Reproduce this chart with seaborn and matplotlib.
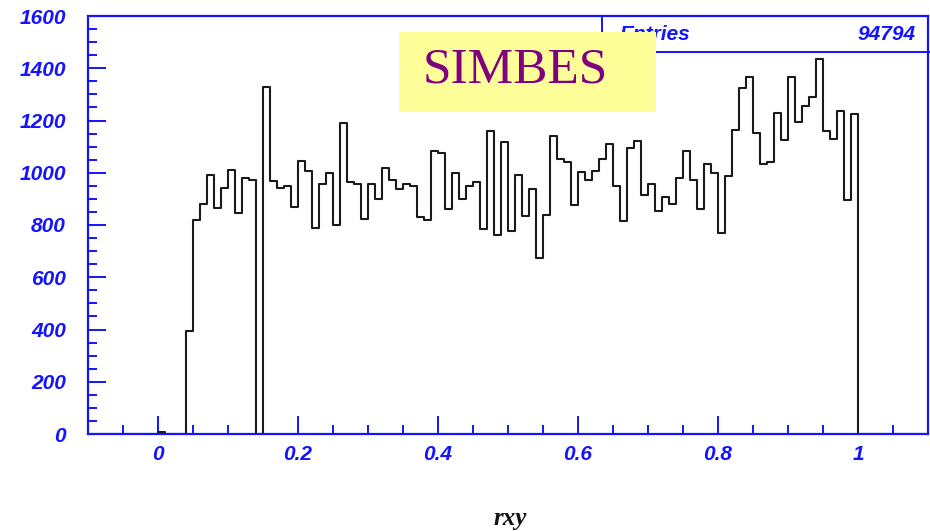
import numpy as np
import pandas as pd
import matplotlib
matplotlib.use("Agg")
import matplotlib.pyplot as plt
from matplotlib.lines import Line2D
from matplotlib.patches import Rectangle
from matplotlib.font_manager import FontProperties
from matplotlib.ticker import MultipleLocator, FixedLocator, FixedFormatter
import seaborn as sns

# Bin contents of rxy for bins of width 0.01 from 0.00 to 1.00
counts = [
    8, 0, 0, 0, 394, 818, 880, 992, 865, 943,
    1011, 846, 978, 971, 0, 1330, 969, 943, 950, 870,
    1046, 1005, 789, 957, 999, 801, 1190, 963, 957, 824,
    957, 901, 1020, 971, 937, 956, 950, 832, 819, 1082,
    1076, 860, 999, 901, 950, 965, 784, 1159, 761, 1117,
    776, 992, 834, 936, 672, 840, 1140, 1054, 1040, 878,
    1004, 971, 1006, 1054, 1110, 950, 817, 1096, 1123, 914,
    956, 853, 907, 881, 978, 1082, 971, 860, 1034, 1000,
    770, 986, 1165, 1326, 1366, 1151, 1033, 1040, 1229, 1124,
    1366, 1194, 1254, 1290, 1435, 1160, 1131, 1235, 894, 1226,
]
hist_low, hist_high, n_bins = -0.1, 1.1, 120
data_low = 0.0

x_ticks = [0.0, 0.2, 0.4, 0.6, 0.8, 1.0]
x_tick_labels = ["0", "0.2", "0.4", "0.6", "0.8", "1"]
y_ticks = [0, 200, 400, 600, 800, 1000, 1200, 1400, 1600]
entries_label = "Entries"
entries_value = "94794"
title_text = "SIMBES"
x_label = "rxy"

# Full histogram range, empty outside [0, 1]
width = (hist_high - hist_low) / n_bins
first = int(round((data_low - hist_low) / width))
weights = np.zeros(n_bins)
weights[first:first + len(counts)] = counts
centers = hist_low + width * (np.arange(n_bins) + 0.5)
df = pd.DataFrame({"rxy": centers, "n": weights})

sns.set_style("white")
plt.rcParams["font.family"] = ["Liberation Sans", "DejaVu Sans"]

W, H = 930, 531
fig = plt.figure(figsize=(W / 100, H / 100), dpi=100)
fig.patch.set_facecolor("white")

left, right, top, bottom = 88, 928, 16, 434
ax = fig.add_axes([left / W, 1 - bottom / H, (right - left) / W, (bottom - top) / H])
ax.set_facecolor("white")

sns.histplot(data=df, x="rxy", weights="n", binwidth=width,
             binrange=(hist_low, hist_high), element="step",
             fill=False, color="#1a1a1a", linewidth=1.5, ax=ax)

blue = "#1414ff"
ax.set_xlim(hist_low, hist_high)
ax.set_ylim(0, 1600)
ax.xaxis.set_major_locator(FixedLocator(x_ticks))
ax.xaxis.set_major_formatter(FixedFormatter(x_tick_labels))
ax.xaxis.set_minor_locator(MultipleLocator(0.05))
ax.yaxis.set_major_locator(FixedLocator(y_ticks))
ax.yaxis.set_minor_locator(MultipleLocator(50))
ax.set_xlabel("")
ax.set_ylabel("")

for s in ax.spines.values():
    s.set_color(blue)
    s.set_linewidth(1.6)
    s.set_zorder(3)

tick_font = dict(family="Liberation Sans", weight="bold", style="italic", size=15)
ax.tick_params(which="both", direction="in", color=blue, width=1.4,
               bottom=True, left=True, top=False, right=False)
ax.tick_params(which="major", length=13)
ax.tick_params(which="minor", length=6.5)
ax.tick_params(axis="y", which="major", pad=16, labelcolor=blue)
ax.tick_params(axis="x", which="major", pad=8, labelcolor=blue)
for lab in ax.get_xticklabels() + ax.get_yticklabels():
    lab.set_fontproperties(FontProperties(**tick_font))

# Statistics box in the upper right corner
fig.add_artist(Line2D([602 / W, 602 / W], [1 - top / H, 1 - 52 / H],
                      color=blue, linewidth=1.4))
fig.add_artist(Line2D([602 / W, 1.0], [1 - 52 / H, 1 - 52 / H],
                      color=blue, linewidth=1.4))
fig.text(620 / W, 1 - 35 / H, entries_label, ha="left", va="center",
         color=blue, **tick_font)
fig.text(916 / W, 1 - 35 / H, entries_value, ha="right", va="center",
         color=blue, **tick_font)

# Highlighted title box
fig.add_artist(Rectangle((399 / W, 1 - 112 / H), (656 - 399) / W, (112 - 32) / H,
                         facecolor="#ffff99", edgecolor="none", zorder=5))
fig.text(515 / W, 1 - 70 / H, title_text, ha="center", va="center",
         color="#800080", family="Liberation Serif", size=37, zorder=6)

fig.text(510 / W, 1 - 519 / H, x_label, ha="center", va="center",
         color="#111111", family="Liberation Serif", style="italic",
         weight="bold", size=18)

fig.savefig("out.png", dpi=100)
